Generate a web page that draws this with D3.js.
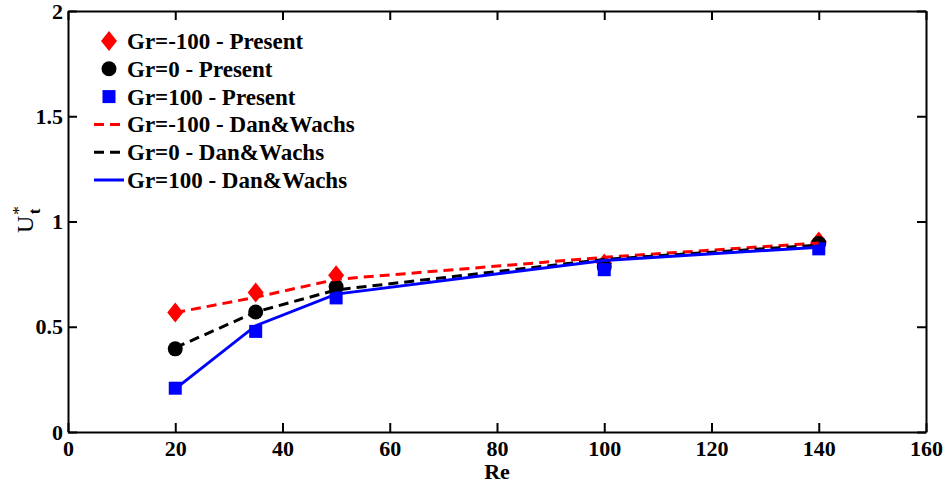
<!DOCTYPE html>
<html>
<head>
<meta charset="utf-8">
<script src="https://cdn.jsdelivr.net/npm/d3@7"></script>
<style>
  html, body { margin: 0; padding: 0; background: #fff; }
  svg { display: block; }
  text { font-family: "Liberation Serif", "Times New Roman", Times, serif; }
</style>
</head>
<body>
<svg id="chart" width="943" height="487"></svg>
<script>
// Reynolds numbers at which the terminal velocity was evaluated
const reValues = [20, 35, 50, 100, 140];

// Present results (markers)
const presentGrM100 = [0.568, 0.663, 0.745, 0.800, 0.905];
const presentGr0    = [0.395, 0.570, 0.690, 0.785, 0.895];
const presentGr100  = [0.208, 0.478, 0.637, 0.771, 0.870];

// Dan & Wachs reference results (lines)
const danGrM100 = [0.567, 0.640, 0.725, 0.830, 0.898];
const danGr0    = [0.400, 0.570, 0.675, 0.820, 0.888];
const danGr100  = [0.205, 0.505, 0.655, 0.815, 0.878];

const xTicks = [0, 20, 40, 60, 80, 100, 120, 140, 160];
const yTicks = [0, 0.5, 1, 1.5, 2];
const yTickLabels = ["0", "0.5", "1", "1.5", "2"];

const legendLabels = [
  "Gr=-100 - Present",
  "Gr=0 - Present",
  "Gr=100 - Present",
  "Gr=-100 - Dan&Wachs",
  "Gr=0 - Dan&Wachs",
  "Gr=100 - Dan&Wachs"
];

const svg = d3.select("#chart");
const plotLeft = 68, plotRight = 926, plotTop = 11, plotBottom = 432;
const serif = "'Liberation Serif', 'Times New Roman', Times, serif";

const x = d3.scaleLinear().domain([0, 160]).range([plotLeft, plotRight]);
const y = d3.scaleLinear().domain([0, 2]).range([plotBottom, plotTop]);

const tickLen = 9;

// Axes: inward ticks on all four sides, labels on bottom and left only
const gB = svg.append("g").attr("transform", `translate(0,${plotBottom})`)
  .call(d3.axisBottom(x).tickValues(xTicks).tickSizeInner(-tickLen).tickSizeOuter(0).tickPadding(8));
const gT = svg.append("g").attr("transform", `translate(0,${plotTop})`)
  .call(d3.axisTop(x).tickValues(xTicks).tickSizeInner(-tickLen).tickSizeOuter(0).tickFormat(""));
const gL = svg.append("g").attr("transform", `translate(${plotLeft},0)`)
  .call(d3.axisLeft(y).tickValues(yTicks).tickSizeInner(-tickLen).tickSizeOuter(0).tickPadding(5)
    .tickFormat((d, i) => yTickLabels[i]));
const gR = svg.append("g").attr("transform", `translate(${plotRight},0)`)
  .call(d3.axisRight(y).tickValues(yTicks).tickSizeInner(-tickLen).tickSizeOuter(0).tickFormat(""));

[gB, gT, gL, gR].forEach(g => {
  g.select(".domain").attr("stroke", "#000").attr("stroke-width", 2);
  g.selectAll(".tick line").attr("stroke", "#000").attr("stroke-width", 2);
  g.selectAll(".tick text").attr("fill", "#000")
    .style("font-family", serif)
    .style("font-weight", "bold").style("font-size", "22px");
});

// Axis titles
svg.append("text")
  .attr("x", (plotLeft + plotRight) / 2).attr("y", 479)
  .attr("text-anchor", "middle")
  .style("font-family", serif)
  .style("font-weight", "bold").style("font-size", "22px")
  .text("Re");

const yl = svg.append("text")
  .attr("transform", "translate(33,233) rotate(-90)")
  .attr("text-anchor", "start")
  .style("font-family", serif)
  .style("font-size", "24px");
yl.append("tspan").text("U");
yl.append("tspan").attr("dy", "-9").attr("dx", "1").style("font-size", "17px").text("*");
yl.append("tspan").attr("dy", "16").attr("dx", "-8").style("font-size", "17px").style("font-weight", "bold").text("t");

const pts = arr => reValues.map((r, i) => [r, arr[i]]);

// Markers: present results
const diamond = (cx, cy) => `M${cx},${cy - 10}L${cx + 8},${cy}L${cx},${cy + 10}L${cx - 8},${cy}Z`;

svg.append("g").selectAll("path").data(pts(presentGrM100)).join("path")
  .attr("d", d => diamond(x(d[0]), y(d[1])))
  .attr("fill", "#ff0000");

svg.append("g").selectAll("circle").data(pts(presentGr0)).join("circle")
  .attr("cx", d => x(d[0])).attr("cy", d => y(d[1])).attr("r", 7.5)
  .attr("fill", "#000");

svg.append("g").selectAll("rect").data(pts(presentGr100)).join("rect")
  .attr("x", d => x(d[0]) - 6.5).attr("y", d => y(d[1]) - 6.5)
  .attr("width", 13).attr("height", 13)
  .attr("fill", "#0000ff");

// Lines: Dan & Wachs
const line = d3.line().x(d => x(d[0])).y(d => y(d[1]));
svg.append("path").datum(pts(danGrM100)).attr("d", line)
  .attr("fill", "none").attr("stroke", "#ff0000").attr("stroke-width", 3)
  .attr("stroke-dasharray", "10,6");
svg.append("path").datum(pts(danGr0)).attr("d", line)
  .attr("fill", "none").attr("stroke", "#000").attr("stroke-width", 3)
  .attr("stroke-dasharray", "10,6");
svg.append("path").datum(pts(danGr100)).attr("d", line)
  .attr("fill", "none").attr("stroke", "#0000ff").attr("stroke-width", 3);

// Legend
const legY0 = 41, legDy = 27.8, symX = 109, textX = 127;
const leg = svg.append("g");
legendLabels.forEach((lab, i) => {
  const cy = legY0 + i * legDy;
  if (i === 0) leg.append("path").attr("d", diamond(symX, cy)).attr("fill", "#ff0000");
  if (i === 1) leg.append("circle").attr("cx", symX).attr("cy", cy).attr("r", 7.5).attr("fill", "#000");
  if (i === 2) leg.append("rect").attr("x", symX - 6.5).attr("y", cy - 6.5).attr("width", 13).attr("height", 13).attr("fill", "#0000ff");
  if (i >= 3) {
    const col = ["#ff0000", "#000", "#0000ff"][i - 3];
    const ln = leg.append("line").attr("x1", 94).attr("x2", 124).attr("y1", cy).attr("y2", cy)
      .attr("stroke", col).attr("stroke-width", 3);
    if (i < 5) ln.attr("stroke-dasharray", "10,6");
  }
  leg.append("text").attr("x", textX).attr("y", cy).attr("dy", "0.35em")
    .style("font-family", serif)
    .style("font-weight", "bold").style("font-size", "23px")
    .text(lab);
});
</script>
</body>
</html>
